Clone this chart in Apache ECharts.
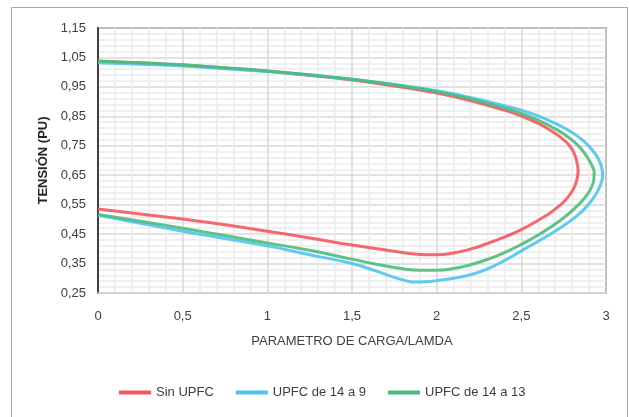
<!DOCTYPE html>
<html>
<head>
<meta charset="utf-8">
<script src="https://cdn.jsdelivr.net/npm/echarts@6/dist/echarts.min.js"></script>
<style>
  html, body { margin: 0; padding: 0; background: #fff; }
  #chart { width: 629px; height: 417px; }
</style>
</head>
<body>
<div id="chart"></div>
<script>
// curva PV: rama superior hasta la nariz y vuelta por la rama inferior
const sinUpfc = [
  [0, 1.037], [0.25, 1.031], [0.5, 1.024], [0.75, 1.014], [1, 1.003], [1.25, 0.989],
  [1.5, 0.973], [1.75, 0.953], [2, 0.929], [2.2, 0.903], [2.4, 0.871], [2.5, 0.851],
  [2.6, 0.826], [2.68, 0.8], [2.74, 0.775], [2.785, 0.75], [2.815, 0.72], [2.83, 0.69],
  [2.835, 0.665], [2.83, 0.64], [2.815, 0.612], [2.79, 0.587], [2.76, 0.565],
  [2.72, 0.544], [2.67, 0.522], [2.6, 0.497], [2.5, 0.465], [2.4, 0.44], [2.3, 0.418],
  [2.2, 0.399], [2.1, 0.386], [2, 0.38], [1.9, 0.381], [1.75, 0.392], [1.5, 0.413],
  [1.25, 0.437], [1, 0.46], [0.75, 0.482], [0.5, 0.501], [0.25, 0.518], [0, 0.535]
];
const upfc14a9 = [
  [0, 1.032], [0.25, 1.027], [0.5, 1.021], [0.75, 1.012], [1, 1.002], [1.25, 0.99],
  [1.5, 0.976], [1.75, 0.958], [2, 0.937], [2.2, 0.914], [2.4, 0.886], [2.5, 0.871],
  [2.6, 0.851], [2.7, 0.826], [2.8, 0.795], [2.87, 0.765], [2.92, 0.735], [2.955, 0.705],
  [2.975, 0.675], [2.98, 0.648], [2.97, 0.622], [2.95, 0.595], [2.92, 0.568],
  [2.88, 0.54], [2.83, 0.513], [2.77, 0.487], [2.7, 0.46], [2.6, 0.426], [2.5, 0.393],
  [2.4, 0.36], [2.3, 0.332], [2.2, 0.312], [2.1, 0.3], [2, 0.292], [1.93, 0.288],
  [1.87, 0.287], [1.81, 0.293], [1.74, 0.305], [1.64, 0.325], [1.5, 0.35], [1.25, 0.38],
  [1, 0.41], [0.75, 0.435], [0.5, 0.46], [0.25, 0.487], [0, 0.514]
];
const upfc14a13 = [
  [0, 1.038], [0.25, 1.032], [0.5, 1.025], [0.75, 1.015], [1, 1.004], [1.25, 0.991],
  [1.5, 0.976], [1.75, 0.957], [2, 0.934], [2.2, 0.909], [2.4, 0.878], [2.5, 0.86],
  [2.6, 0.837], [2.7, 0.808], [2.78, 0.778], [2.84, 0.748], [2.885, 0.715],
  [2.915, 0.685], [2.93, 0.66], [2.928, 0.635], [2.915, 0.61], [2.89, 0.585],
  [2.855, 0.56], [2.81, 0.535], [2.76, 0.51], [2.7, 0.484], [2.6, 0.447], [2.5, 0.415],
  [2.4, 0.387], [2.3, 0.364], [2.2, 0.346], [2.1, 0.333], [2, 0.327], [1.9, 0.327],
  [1.78, 0.334], [1.65, 0.347], [1.5, 0.365], [1.25, 0.395], [1, 0.42], [0.75, 0.445],
  [0.5, 0.47], [0.25, 0.494], [0, 0.517]
];
const nombres = ["Sin UPFC", "UPFC de 14 a 9", "UPFC de 14 a 13"];
const colores = ["#f4585f", "#4fc4f0", "#4dbb7c"];

const font = "Liberation Sans, Arial, sans-serif";
const coma = (v, d) => v.toFixed(d).replace(".", ",");

const myChart = echarts.init(document.getElementById("chart"), null, { renderer: "canvas" });

myChart.setOption({
  animation: false,
  textStyle: { fontFamily: font },
  graphic: [
    {
      type: "rect",
      shape: { x: 11.5, y: 7.5, width: 616, height: 420 },
      style: { fill: "none", stroke: "#a6a6a6", lineWidth: 1 },
      silent: true,
      z: -1
    }
  ],
  grid: {
    left: 98,
    right: 23,
    top: 28,
    bottom: 124,
    show: true,
    borderColor: "#404040",
    borderWidth: 1.5,
    backgroundColor: "#fff"
  },
  legend: {
    bottom: 13,
    left: 114,
    icon: "rect",
    itemWidth: 32,
    itemHeight: 4,
    itemGap: 22,
    textStyle: { fontSize: 13, color: "#404040", fontFamily: font },
    data: nombres
  },
  xAxis: {
    type: "value",
    min: 0,
    max: 3,
    interval: 0.5,
    name: "PARAMETRO DE CARGA/LAMDA",
    nameLocation: "middle",
    nameGap: 42,
    nameTextStyle: { fontSize: 13, color: "#404040" },
    axisLine: { show: true, lineStyle: { color: "#d9d9d9", width: 1.5 } },
    axisTick: { show: false },
    axisLabel: {
      fontSize: 13,
      color: "#404040",
      margin: 17,
      formatter: (v) => coma(v, v % 1 === 0 ? 0 : 1)
    },
    splitLine: { show: true, lineStyle: { color: "#d9d9d9", width: 1.5 } },
    minorTick: { show: false, splitNumber: 5 },
    minorSplitLine: { show: true, lineStyle: { color: "#ececec", width: 1.5 } }
  },
  yAxis: {
    type: "value",
    min: 0.25,
    max: 1.15,
    interval: 0.1,
    name: "TENSIÓN (PU)",
    nameLocation: "middle",
    nameGap: 45,
    nameTextStyle: { fontSize: 13, fontWeight: "bold", color: "#262626" },
    axisLine: { show: true, lineStyle: { color: "#404040", width: 2 } },
    axisTick: { show: false },
    axisLabel: {
      fontSize: 13,
      color: "#404040",
      margin: 12,
      formatter: (v) => coma(v, 2)
    },
    splitLine: { show: true, lineStyle: { color: "#d9d9d9", width: 1.5 } },
    minorTick: { show: false, splitNumber: 5 },
    minorSplitLine: { show: true, lineStyle: { color: "#ececec", width: 1.5 } }
  },
  series: [
    { name: nombres[0], data: sinUpfc, color: colores[0] },
    { name: nombres[1], data: upfc14a9, color: colores[1] },
    { name: nombres[2], data: upfc14a13, color: colores[2] }
  ].map((s) => ({
    name: s.name,
    type: "line",
    data: s.data,
    smooth: 0.5,
    showSymbol: false,
    symbol: "none",
    itemStyle: { color: s.color },
    lineStyle: { color: s.color, width: 3, opacity: 0.9 }
  }))
});
</script>
</body>
</html>
